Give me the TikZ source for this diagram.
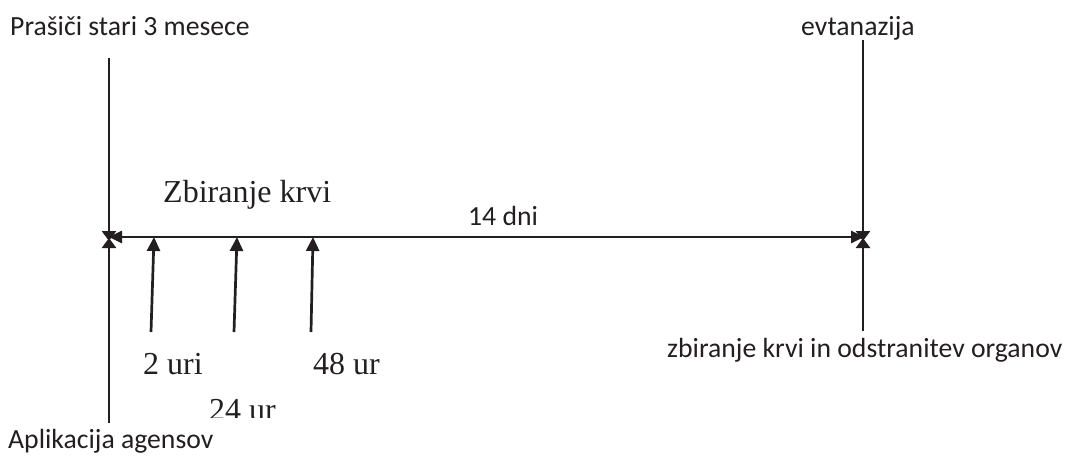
\documentclass[tikz,border=0pt]{standalone}
\usepackage{fontspec}
\setmainfont{Liberation Serif}
\newfontfamily\labelsans{Carlito}
\usetikzlibrary{arrows.meta}
\tikzset{
  x=1pt, y=-1pt,
  axisline/.style={line width=2.7pt, draw={rgb,255:red,35;green,31;blue,32}},
  headlong/.style={-{Triangle[length=14pt,width=13pt]}},
  headshort/.style={-{Triangle[length=10pt,width=14pt]}},
  headboth/.style={{Triangle[length=13pt,width=12pt]}-{Triangle[length=13pt,width=12pt]}},
  sanslbl/.style={inner sep=0pt, anchor=base west, font=\labelsans\fontsize{27.7}{30}\selectfont, text={rgb,255:red,35;green,31;blue,32}},
  seriflbl/.style={inner sep=0pt, anchor=base west, font=\fontsize{32}{36}\selectfont, text={rgb,255:red,35;green,31;blue,32}}
}
\begin{document}
\begin{tikzpicture}
\useasboundingbox (0,0) rectangle (1069,464);

% time axis end points
\coordinate (startTop) at (109,58);
\coordinate (startBot) at (109,423);
\coordinate (startUp) at (109,241);
\coordinate (startDown) at (109,238);
\coordinate (axisL) at (109,237);
\coordinate (axisR) at (864,237);
\coordinate (endTop) at (863,40);
\coordinate (endBot) at (863,331);
\coordinate (endUp) at (863,241);
\coordinate (endDown) at (863,238);

% sampling points
\coordinate (s1a) at (151,332); \coordinate (s1b) at (154,237);
\coordinate (s2a) at (234,332); \coordinate (s2b) at (237,237);
\coordinate (s3a) at (311,332); \coordinate (s3b) at (313,237);

% labels
\node[sanslbl] (start) at (10,35) {Prašiči stari 3 mesece};
\node[sanslbl] (euth) at (801,35) {evtanazija};
\node[seriflbl] (blood) at (163,202) {Zbiranje krvi};
\node[sanslbl] (days) at (468,225) {14 dni};
\node[seriflbl] (t2) at (143,374) {2 uri};
\node[seriflbl] (t48) at (313,374) {48 ur};
\begin{scope}
  \clip (190,380) rectangle (290,417);
  \node[seriflbl] (t24) at (209,420) {24 ur};
\end{scope}
\node[sanslbl] (organs) at (667,357) {zbiranje krvi in odstranitev organov};
\node[sanslbl] (agents) at (8,448) {Aplikacija agensov};

% arrows
\draw[axisline, headshort] (startTop) -- (startUp);
\draw[axisline, headshort] (startBot) -- (startDown);
\draw[axisline, headboth] (axisL) -- (axisR);
\draw[axisline, headshort] (endTop) -- (endUp);
\draw[axisline, headshort] (endBot) -- (endDown);
\draw[axisline, headlong] (s1a) -- (s1b);
\draw[axisline, headlong] (s2a) -- (s2b);
\draw[axisline, headlong] (s3a) -- (s3b);
\end{tikzpicture}
\end{document}
